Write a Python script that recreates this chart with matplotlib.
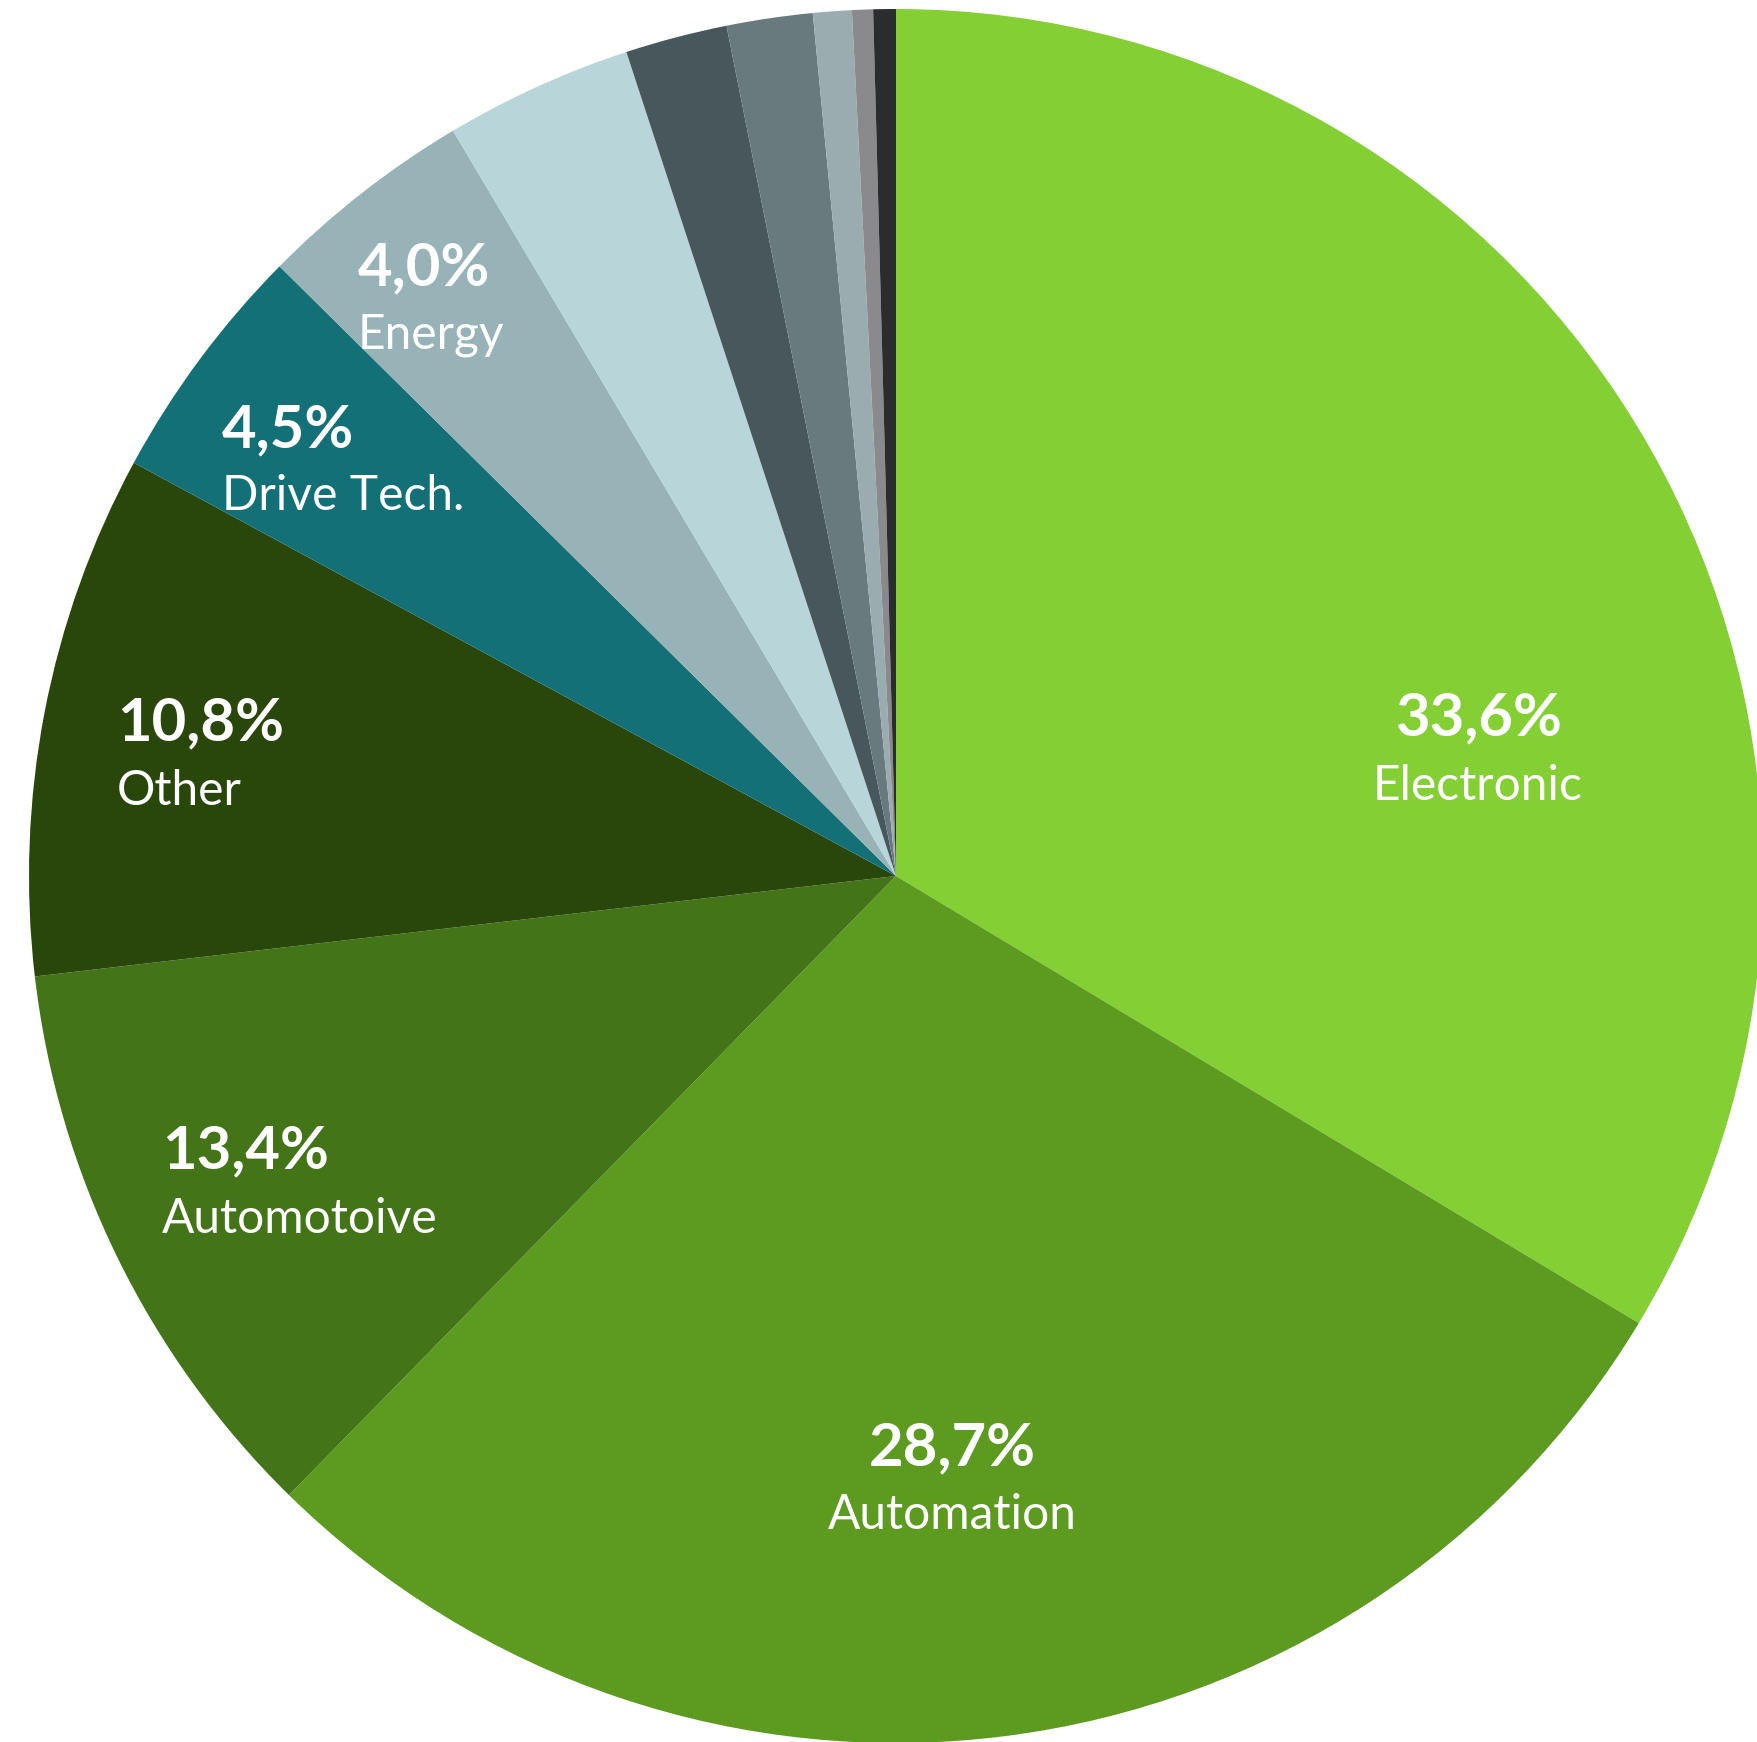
import matplotlib.pyplot as plt

# slice shares as drawn (clockwise from 12 o'clock)
sizes = [33.6, 28.7, 10.8, 9.75, 4.5, 4.05, 3.5, 1.9, 1.6, 0.72, 0.39, 0.42]
colors = ['#84D034', '#5C9A20', '#437418', '#2A470B', '#137076', '#97B3B7',
          '#B8D6DA', '#48575C', '#687A7E', '#9BACB0', '#8A8A8C', '#2A2C2E']

# printed labels (value, name)
pct_labels = ['33,6%', '28,7%', '13,4%', '10,8%', '4,5%', '4,0%']
names = ['Electronic', 'Automation', 'Automotoive', 'Other', 'Drive Tech.', 'Energy']

W, H = 1757, 1742
fig = plt.figure(figsize=(W / 100, H / 100), dpi=100)
ax = fig.add_axes([0, 0, 1, 1])

cx, cy, r = 896, H - 876, 867
ax.pie(sizes, colors=colors, startangle=90, counterclock=False,
       radius=r, center=(cx, cy), frame=True,
       wedgeprops=dict(linewidth=0, antialiased=True))
ax.set_xlim(0, W)
ax.set_ylim(0, H)
ax.set_aspect('equal')
ax.axis('off')

# label anchor: (x, baseline of value, baseline of name, alignment) in pixels from top
spots = [(1478, 735, 800, 'center'),
         (952, 1465, 1529, 'center'),
         (162, 1168, 1233, 'left'),
         (117, 740, 805, 'left'),
         (222, 447, 510, 'left'),
         (358, 285, 348, 'left')]

font = ['Lato', 'DejaVu Sans']
for (x, yb, yn, ha), p, n in zip(spots, pct_labels, names):
    ax.text(x, H - yb, p, color='white', fontsize=43, fontweight='bold',
            ha=ha, va='baseline', family=font)
    ax.text(x, H - yn, n, color='white', fontsize=34.5,
            ha=ha, va='baseline', family=font)

fig.savefig('out.png', dpi=100, facecolor='white')
